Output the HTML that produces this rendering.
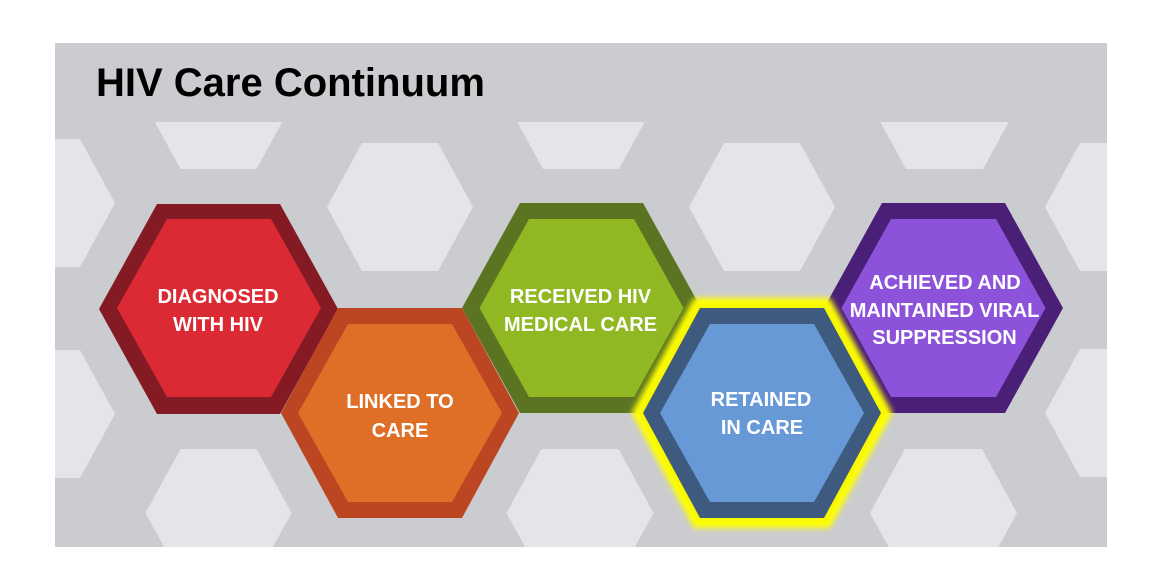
<!DOCTYPE html>
<html>
<head>
<meta charset="utf-8">
<style>
  html,body{margin:0;padding:0;background:#ffffff;}
  body{width:1162px;height:585px;overflow:hidden;}
  svg{display:block;}
  text{font-family:"Liberation Sans",Arial,sans-serif;font-weight:bold;}
</style>
</head>
<body>
<svg width="1162" height="585" viewBox="0 0 1162 585" xmlns="http://www.w3.org/2000/svg">
  <defs>
    <clipPath id="pc"><rect x="55" y="122" width="1052" height="425"/></clipPath>
    <filter id="glow" x="-20%" y="-20%" width="140%" height="140%">
      <feGaussianBlur stdDeviation="3"/>
    </filter>
  </defs>
  <!-- panel -->
  <rect x="55" y="43" width="1052" height="504" fill="#cbcccf"/>

  <!-- light background hexes -->
  <g clip-path="url(#pc)" fill="#e4e5e9">
    <polygon points="145.5,105 180.5,41 256.5,41 291.5,105 256.5,169 180.5,169"/>
    <polygon points="508,105 543,41 619,41 654,105 619,169 543,169"/>
    <polygon points="871,105 906,41 983,41 1018,105 983,169 906,169"/>
    <polygon points="-31,203 4,139 80,139 115,203 80,267 4,267"/>
    <polygon points="327,207 362,143 438,143 473,207 438,271 362,271"/>
    <polygon points="689,207 724,143 800,143 835,207 800,271 724,271"/>
    <polygon points="1045,207 1080,143 1156,143 1191,207 1156,271 1080,271"/>
    <polygon points="-31,414 4,350 80,350 115,414 80,478 4,478"/>
    <polygon points="1045,413 1080,349 1156,349 1191,413 1156,477 1080,477"/>
    <polygon points="145.5,513 180.5,449 256.5,449 291.5,513 256.5,577 180.5,577"/>
    <polygon points="506.5,513 541.5,449 618.5,449 653.5,513 618.5,577 541.5,577"/>
    <polygon points="870,513 905,449 982,449 1017,513 982,577 905,577"/>
  </g>

  <!-- title -->
  <text x="96" y="96" font-size="40" fill="#000000">HIV Care Continuum</text>

  <!-- RED -->
  <polygon points="99,309 157,204 280,204 338,309 280,414 157,414" fill="#831a24"/>
  <polygon points="117,308 167,219 271,219 321,308 271,397 167,397" fill="#dc2a35"/>

  <!-- ORANGE -->
  <polygon points="281,413 338,308 462,308 519,413 462,518 338,518" fill="#bc4622"/>
  <polygon points="298,413 348,324 452,324 502,413 452,502 348,502" fill="#df6e26"/>

  <!-- GREEN -->
  <polygon points="462,308 520,203 643,203 701,308 643,413 520,413" fill="#5b7422"/>
  <polygon points="479.5,308 529,219 634,219 683.5,308 634,397 529,397" fill="#8fb823"/>

  <!-- PURPLE -->
  <polygon points="824,308 882,203 1005,203 1063,308 1005,413 882,413" fill="#4a1f77"/>
  <polygon points="841.5,308 891,219 996,219 1045.5,308 996,397 891,397" fill="#8c52da"/>

  <!-- glow for BLUE -->
  <polygon points="643,413 700,308 824,308 881,413 824,518 700,518" fill="none" stroke="#ffff00" stroke-width="20" stroke-linejoin="miter" filter="url(#glow)"/>
  <polygon points="643,413 700,308 824,308 881,413 824,518 700,518" fill="none" stroke="#f8f800" stroke-width="9" stroke-linejoin="miter"/>

  <!-- BLUE -->
  <polygon points="643,413 700,308 824,308 881,413 824,518 700,518" fill="#3e5a7e"/>
  <polygon points="660,413 710,324 814,324 864,413 814,502 710,502" fill="#6799d7"/>

  <!-- labels -->
  <g fill="#ffffff" font-size="20" text-anchor="middle">
    <text x="218" y="303">DIAGNOSED</text>
    <text x="218" y="331">WITH HIV</text>

    <text x="400" y="408">LINKED TO</text>
    <text x="400" y="437">CARE</text>

    <text x="580.5" y="303">RECEIVED HIV</text>
    <text x="580.5" y="331">MEDICAL CARE</text>

    <text x="761" y="406">RETAINED</text>
    <text x="762" y="434">IN CARE</text>

    <text x="945" y="289">ACHIEVED AND</text>
    <text x="944.5" y="317">MAINTAINED VIRAL</text>
    <text x="944.5" y="344">SUPPRESSION</text>
  </g>
</svg>
</body>
</html>
